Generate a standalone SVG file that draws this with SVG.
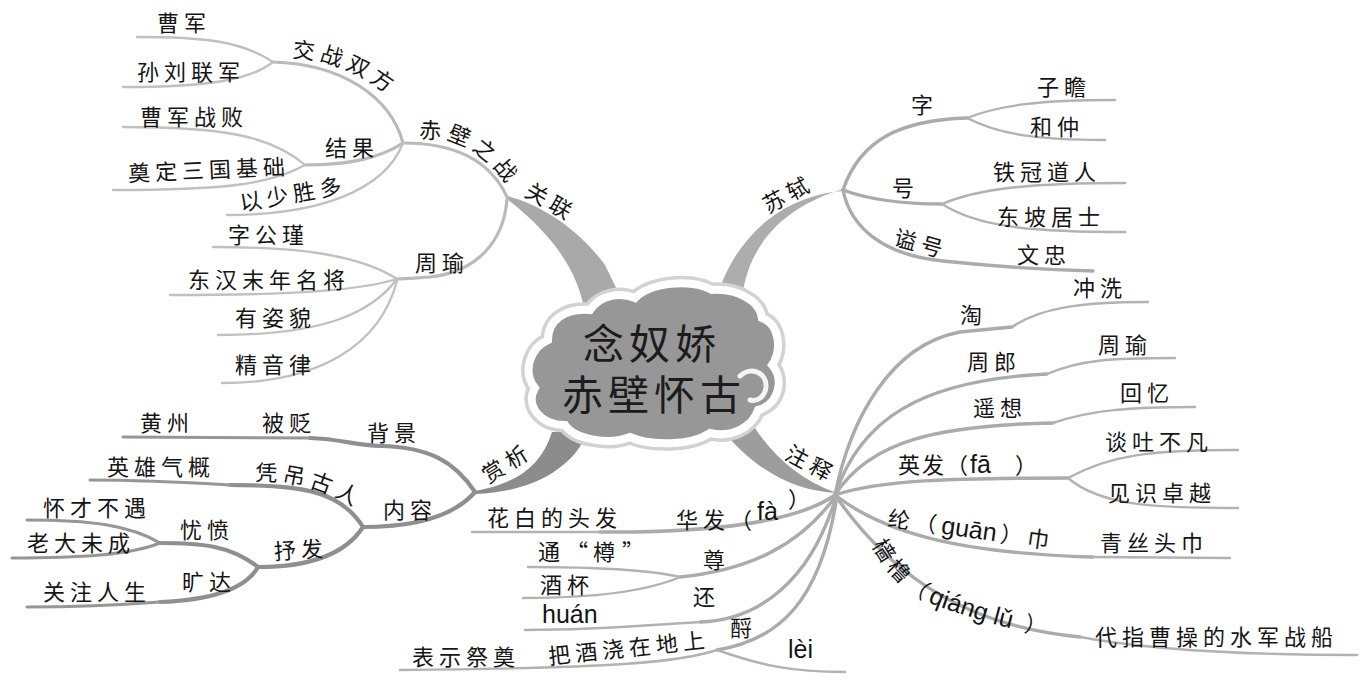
<svg xmlns="http://www.w3.org/2000/svg" width="1362" height="680" viewBox="0 0 1362 680">
<style>
.t{font-family:"Noto Sans CJK SC","Noto Sans CJK JP",sans-serif;font-size:22px;letter-spacing:5px;fill:#151515}
.py{font-family:"Liberation Sans","DejaVu Sans",sans-serif;font-size:25px;letter-spacing:0}
.tight{letter-spacing:2px}
.title{font-family:"Noto Sans CJK SC","Noto Sans CJK JP",sans-serif;font-size:41px;letter-spacing:5px;fill:#1c1c1c}
.a1{fill:none;stroke:#bababa;stroke-width:3.2;stroke-linecap:round}
.a2{fill:none;stroke:#c0c0c0;stroke-width:2.3;stroke-linecap:round}
.r1{fill:none;stroke:#ababab;stroke-width:3.4;stroke-linecap:round}
.r2{fill:none;stroke:#b2b2b2;stroke-width:2.4;stroke-linecap:round}
.d1{fill:none;stroke:#8f8f8f;stroke-width:4.2;stroke-linecap:round}
.d2{fill:none;stroke:#969696;stroke-width:3;stroke-linecap:round}
.main{stroke:none}
</style>
<defs>
<path id="cloud" d="M548,340 C548,320 565,308 590,310 C600,295 620,292 635,298 C650,283 690,278 712,290 C735,288 760,300 762,318 C780,325 782,350 772,365 C785,380 778,405 758,410 C752,428 730,438 710,433 C690,446 650,446 630,437 C610,445 575,440 565,425 C540,425 525,405 535,388 C522,372 530,348 548,340 Z"/>
<path id="tp-jz" d="M292,58 C325,58 362,72 398,102"/>
<path id="tp-cb" d="M419,139 C450,136 480,145 514,194"/>
<path id="tp-pd" d="M255,481 C285,480 320,486 354,507"/>
<path id="tp-ql" d="M872,545 C885,570 905,595 940,607 C970,617 1000,628 1055,637"/>
</defs>

<g id="connectors">
  <path class="main" fill="#a9a9a9" d="M507,196 C535,203 575,224 605,265 L626,308 L584,308 C578,277 560,240 507,199 Z"/>
  <path class="main" fill="#adadad" d="M843,189 C790,205 745,240 741,308 L714,308 C730,240 780,196 843,191 Z"/>
  <path class="main" fill="#8c8c8c" d="M475,491 C512,484 540,470 552,432 L588,432 C572,470 530,492 476,494 Z"/>
  <path class="main" fill="#9d9d9d" d="M718,425 L753,425 C772,455 800,480 837,493 C798,491 758,475 718,425 Z"/>

  <path class="a1" d="M507,197 C490,160 455,143 403,143"/>
  <path class="a1" d="M507,199 C504,240 478,272 430,277 C415,278 405,279 397,279"/>
  <path class="a1" d="M403,143 C390,95 340,64 273,62"/>
  <path class="a1" d="M403,143 C380,158 350,165 305,165"/>
  <path class="a2" d="M403,143 C385,190 320,215 227,215"/>
  <path class="a2" d="M273,62 C240,40 200,37 137,37"/>
  <path class="a2" d="M273,62 C250,80 210,87 123,87"/>
  <path class="a2" d="M305,165 C270,135 220,127 123,127"/>
  <path class="a2" d="M305,165 C270,185 220,190 113,190"/>
  <path class="a2" d="M397,279 C360,255 300,247 213,247"/>
  <path class="a2" d="M397,279 C360,290 300,295 170,295"/>
  <path class="a2" d="M397,279 C370,315 320,335 218,335"/>
  <path class="a2" d="M397,281 C380,345 320,383 222,383"/>

  <path class="r1" d="M843,190 C860,140 900,120 967,118"/>
  <path class="r1" d="M843,190 C870,200 900,204 942,204"/>
  <path class="r1" d="M843,190 C850,225 880,255 943,261 C1000,267 1050,270 1093,271"/>
  <path class="r2" d="M967,118 C1000,105 1040,100 1115,100"/>
  <path class="r2" d="M967,118 C1000,135 1040,140 1105,140"/>
  <path class="r2" d="M942,204 C975,190 1020,183 1125,183"/>
  <path class="r2" d="M942,204 C975,225 1020,232 1125,232"/>

  <path class="r1" d="M835,495 C850,420 890,345 960,332 L1012,327"/>
  <path class="r2" d="M1012,327 C1040,308 1080,302 1148,302"/>
  <path class="r1" d="M835,495 C860,420 920,380 1047,374"/>
  <path class="r2" d="M1047,374 C1080,360 1110,358 1175,358"/>
  <path class="r1" d="M835,495 C870,440 940,425 1053,423"/>
  <path class="r2" d="M1053,423 C1090,410 1130,407 1195,407"/>
  <path class="r1" d="M835,495 C880,480 950,478 1068,478"/>
  <path class="r2" d="M1068,478 C1110,455 1150,450 1238,450"/>
  <path class="r2" d="M1068,478 C1100,505 1150,508 1238,508"/>
  <path class="r1" d="M835,495 C880,530 950,553 1093,557"/>
  <path class="r2" d="M1093,557 L1230,558"/>
  <path class="r1" d="M835,495 C880,560 950,625 1080,637"/>
  <path class="r2" d="M1080,637 C1150,650 1250,655 1357,655"/>
  <path class="r1" d="M835,495 C800,520 720,533 600,532"/>
  <path class="r2" d="M600,532 L472,532"/>
  <path class="r1" d="M835,497 C800,545 750,570 680,577"/>
  <path class="r2" d="M680,577 C650,570 600,567 528,567"/>
  <path class="r2" d="M680,577 C650,590 600,598 523,598"/>
  <path class="r1" d="M835,500 C810,580 760,620 700,622"/>
  <path class="r2" d="M700,622 C650,625 600,630 525,630"/>
  <path class="r1" d="M836,502 C820,600 780,640 717,650"/>
  <path class="r2" d="M717,650 C680,662 620,668 400,670"/>
  <path class="r2" d="M717,650 C760,665 790,672 845,672"/>

  <path class="d1" d="M475,492 C455,462 430,447 380,446 C355,445 340,439 310,438"/>
  <path class="d2" d="M310,438 L123,437"/>
  <path class="d1" d="M475,492 C455,515 420,527 363,527"/>
  <path class="d1" d="M363,527 C340,490 300,485 230,485"/>
  <path class="d2" d="M230,485 C180,482 140,480 90,480"/>
  <path class="d1" d="M363,527 C345,555 310,567 258,567"/>
  <path class="d1" d="M258,567 C230,545 200,543 160,543"/>
  <path class="d1" d="M258,567 C245,590 210,600 160,602"/>
  <path class="d2" d="M160,602 C120,605 70,607 27,607"/>
  <path class="d2" d="M160,543 C130,525 90,520 27,520"/>
  <path class="d2" d="M160,543 C130,555 80,558 12,558"/>
</g>

<g id="n-root">
  <use href="#cloud" fill="none" stroke="#d2d2d2" stroke-width="15"/>
  <use href="#cloud" fill="#979797" stroke="#ffffff" stroke-width="8"/>
  <path d="M740,376 C750,366 767,372 766,387 C765,397 757,402 750,400" fill="none" stroke="#f4f4f4" stroke-width="5" stroke-linecap="round"/>
  <text class="title" text-anchor="middle"><tspan x="652" y="359">念奴娇</tspan><tspan x="654" y="410">赤壁怀古</tspan></text>
</g>

<g id="n-guanlian"><text class="t" transform="translate(551,202) rotate(30)" y="8" text-anchor="middle">关联</text></g>
<g id="n-chibi"><text class="t"><textPath href="#tp-cb">赤壁之战</textPath></text></g>
<g id="n-jiaozhan"><text class="t"><textPath href="#tp-jz">交战双方</textPath></text></g>
<g id="n-caojun"><text class="t" x="157" y="31">曹军</text></g>
<g id="n-sunliu"><text class="t" x="137" y="80">孙刘联军</text></g>
<g id="n-jieguo"><text class="t" x="325" y="156">结果</text></g>
<g id="n-zhanbai"><text class="t" x="140" y="125">曹军战败</text></g>
<g id="n-dianding"><text class="t" transform="translate(209,170) rotate(-2.5)" y="8" text-anchor="middle">奠定三国基础</text></g>
<g id="n-yishao"><text class="t" transform="translate(293,194) rotate(-10)" y="8" text-anchor="middle">以少胜多</text></g>
<g id="n-zhouyu"><text class="t" x="415" y="271">周瑜</text></g>
<g id="n-zigong"><text class="t" x="228" y="243">字公瑾</text></g>
<g id="n-donghan"><text class="t" x="188" y="288">东汉末年名将</text></g>
<g id="n-youzi"><text class="t" x="235" y="326">有姿貌</text></g>
<g id="n-jingyin"><text class="t" x="235" y="373">精音律</text></g>

<g id="n-shangxi"><text class="t" transform="translate(507,463) rotate(-32)" y="8" text-anchor="middle">赏析</text></g>
<g id="n-beijing"><text class="t" x="367" y="441">背景</text></g>
<g id="n-beibian"><text class="t" x="262" y="431">被贬</text></g>
<g id="n-huangzhou"><text class="t" x="140" y="431">黄州</text></g>
<g id="n-neirong"><text class="t" x="383" y="518">内容</text></g>
<g id="n-pingdiao"><text class="t"><textPath href="#tp-pd">凭吊古人</textPath></text></g>
<g id="n-yingxiong"><text class="t" x="107" y="475">英雄气概</text></g>
<g id="n-shufa"><text class="t" transform="translate(301,550) rotate(-4)" y="8" text-anchor="middle">抒发</text></g>
<g id="n-youfen"><text class="t" x="180" y="538">忧愤</text></g>
<g id="n-huaicai"><text class="t" x="43" y="516">怀才不遇</text></g>
<g id="n-laoda"><text class="t" x="27" y="551">老大未成</text></g>
<g id="n-kuangda"><text class="t" x="182" y="590">旷达</text></g>
<g id="n-guanzhu"><text class="t" x="43" y="600">关注人生</text></g>

<g id="n-sushi"><text class="t" transform="translate(788,194) rotate(-28)" y="8" text-anchor="middle">苏轼</text></g>
<g id="n-zi"><text class="t" x="911" y="113">字</text></g>
<g id="n-zizhan"><text class="t" x="1037" y="95">子瞻</text></g>
<g id="n-hezhong"><text class="t" x="1030" y="135">和仲</text></g>
<g id="n-hao"><text class="t" x="892" y="196">号</text></g>
<g id="n-tieguan"><text class="t" x="993" y="180">铁冠道人</text></g>
<g id="n-dongpo"><text class="t" x="997" y="225">东坡居士</text></g>
<g id="n-shihao"><text class="t" transform="translate(921,244) rotate(15)" y="8" text-anchor="middle">谥号</text></g>
<g id="n-wenzhong"><text class="t" x="1017" y="263">文忠</text></g>

<g id="n-zhushi"><text class="t" transform="translate(811,464) rotate(28)" y="8" text-anchor="middle">注释</text></g>
<g id="n-tao"><text class="t" x="960" y="323">淘</text></g>
<g id="n-chongxi"><text class="t" x="1073" y="296">冲洗</text></g>
<g id="n-zhoulang"><text class="t" x="967" y="370">周郎</text></g>
<g id="n-zhouyu2"><text class="t" x="1098" y="353">周瑜</text></g>
<g id="n-yaoxiang"><text class="t" x="973" y="416">遥想</text></g>
<g id="n-huiyi"><text class="t" x="1120" y="401">回忆</text></g>
<g id="n-yingfa"><text class="t tight" x="898" y="473">英发（<tspan class="py">fā</tspan><tspan dx="24">）</tspan></text></g>
<g id="n-tantu"><text class="t" x="1105" y="450">谈吐不凡</text></g>
<g id="n-jianshi"><text class="t" x="1108" y="501">见识卓越</text></g>
<g id="n-guanjin"><text class="t" transform="rotate(8,887,526)" x="887" y="526">纶（<tspan class="py">guān</tspan><tspan dx="4">）巾</tspan></text></g>
<g id="n-qingsi"><text class="t" x="1100" y="551">青丝头巾</text></g>
<g id="n-qianglu"><text class="t"><textPath href="#tp-ql">樯橹（<tspan class="py">qiáng lǔ </tspan><tspan dx="6">）</tspan></textPath></text></g>
<g id="n-daizhi"><text class="t" x="1095" y="645">代指曹操的水军战船</text></g>
<g id="n-huafa"><text class="t" x="676" y="528">华发（<tspan class="py" dy="-8">fà</tspan><tspan dx="10" dy="-13">）</tspan></text></g>
<g id="n-huabai"><text class="t" x="487" y="526">花白的头发</text></g>
<g id="n-zun"><text class="t" x="703" y="568">尊</text></g>
<g id="n-tongzun"><text class="t" x="538" y="560">通<tspan dx="1">“</tspan><tspan>樽</tspan><tspan dx="2">”</tspan></text></g>
<g id="n-jiubei"><text class="t" x="540" y="593">酒杯</text></g>
<g id="n-huan"><text class="t" x="693" y="605">还</text></g>
<g id="n-huanpy"><text class="t py" x="542" y="623">huán</text></g>
<g id="n-lei"><text class="t" x="730" y="636">酹</text></g>
<g id="n-leipy"><text class="t py" x="788" y="658">lèi</text></g>
<g id="n-bajiu"><text class="t" transform="translate(629,648) rotate(-6)" y="8" text-anchor="middle">把酒浇在地上</text></g>
<g id="n-biaoshi"><text class="t" x="412" y="665">表示祭奠</text></g>
</svg>
